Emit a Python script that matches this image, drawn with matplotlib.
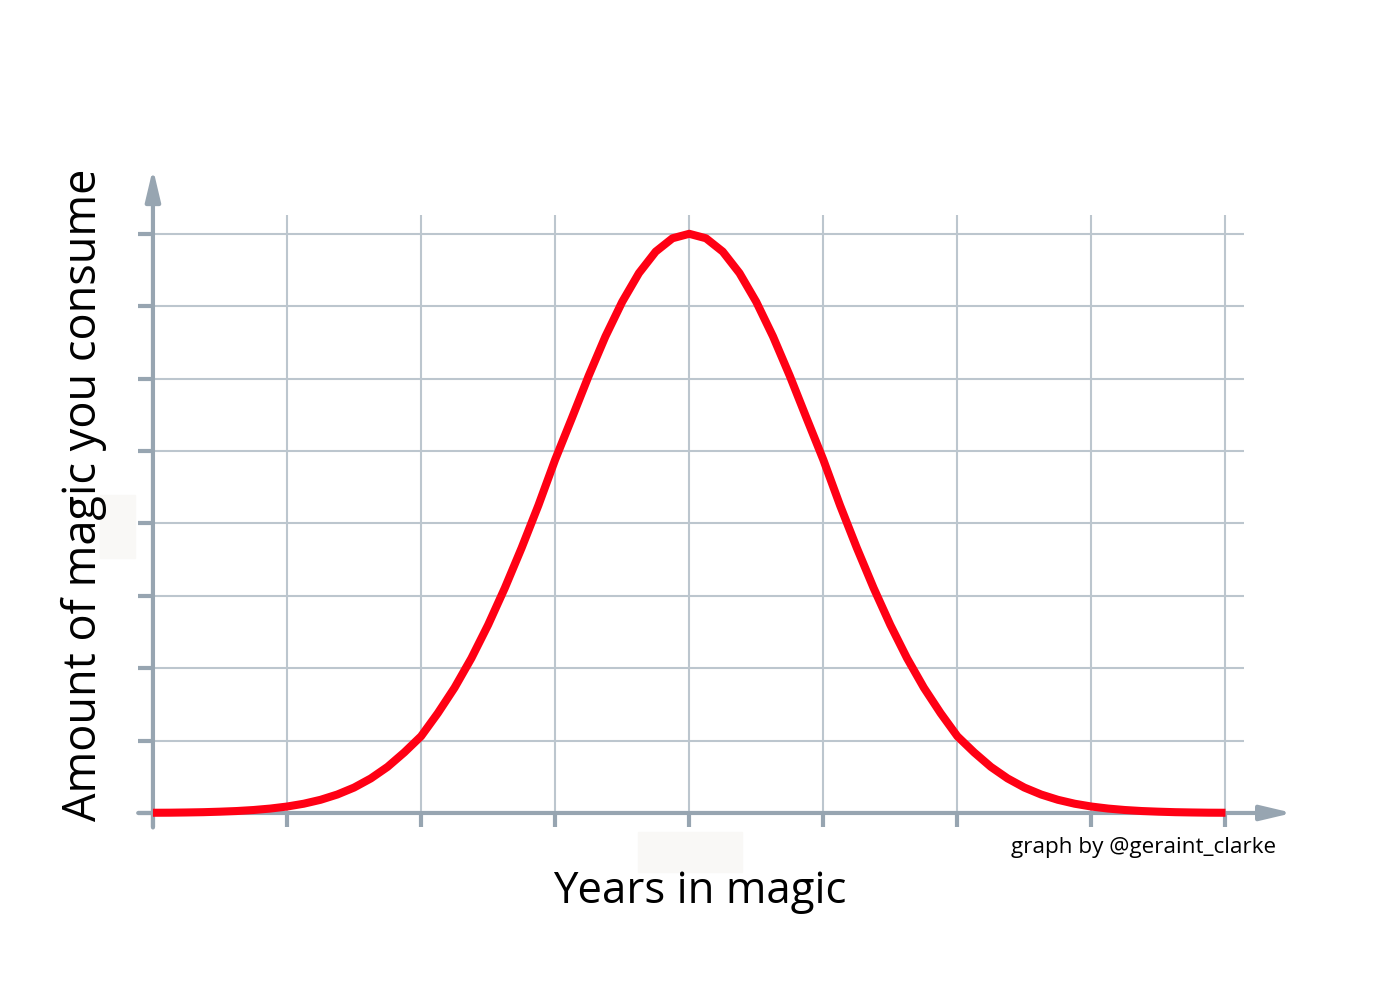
import matplotlib.pyplot as plt
from matplotlib.patches import Rectangle

# curve (years vs amount), rising half then falling half
years = [0, 0.125, 0.25, 0.375, 0.5, 0.625, 0.75, 0.875, 1, 1.125, 1.25, 1.375,
         1.5, 1.625, 1.75, 1.875, 2, 2.125, 2.25, 2.375, 2.5, 2.625, 2.75, 2.875,
         3, 3.125, 3.25, 3.375, 3.5, 3.625, 3.75, 3.875, 4,
         4.125, 4.25, 4.375, 4.5, 4.625, 4.75, 4.875, 5, 5.125, 5.25, 5.375,
         5.5, 5.625, 5.75, 5.875, 6, 6.125, 6.25, 6.375, 6.5, 6.625, 6.75, 6.875,
         7, 7.125, 7.25, 7.375, 7.5, 7.625, 7.75, 7.875, 8]
amount = [0.003, 0.004, 0.007, 0.011, 0.018, 0.027, 0.041, 0.061, 0.089, 0.128, 0.182, 0.255,
          0.351, 0.477, 0.637, 0.837, 1.06, 1.379, 1.731, 2.137, 2.598, 3.109, 3.662, 4.249,
          4.88, 5.455, 6.038, 6.582, 7.06, 7.457, 7.754, 7.938, 8.0,
          7.938, 7.754, 7.457, 7.06, 6.582, 6.038, 5.455, 4.88, 4.249, 3.662, 3.109,
          2.598, 2.137, 1.731, 1.379, 1.06, 0.837, 0.637, 0.477, 0.351, 0.255, 0.182, 0.128,
          0.089, 0.061, 0.041, 0.027, 0.018, 0.011, 0.007, 0.004, 0.003]
x_ticks = [0, 1, 2, 3, 4, 5, 6, 7, 8]
y_ticks = [0, 1, 2, 3, 4, 5, 6, 7, 8]

axis_col = '#97a5b1'
grid_col = '#bcc6ce'
red = '#ff0014'

fig = plt.figure(figsize=(14, 10), dpi=100)
ax = fig.add_axes([0.0901, 0.1653, 0.8427, 0.6733])
ax.set_xlim(-0.2, 8.6)
ax.set_ylim(-0.3, 9.0)
ax.axis('off')

# grid
ax.vlines(x_ticks[1:], 0, 8.26, color=grid_col, lw=1.5, zorder=1)
ax.hlines(y_ticks[1:], 0, 8.14, color=grid_col, lw=1.5, zorder=1)

# ticks
ax.hlines(y_ticks, -0.11, 0, color=axis_col, lw=3, zorder=2)
ax.vlines(x_ticks, -0.2, 0, color=axis_col, lw=3, zorder=2)

# axes with arrows
arrow = dict(arrowstyle='-|>,head_length=1.9,head_width=0.45',
             color=axis_col, lw=3, mutation_scale=10, shrinkA=0, shrinkB=0)
ax.annotate('', xy=(8.5, 0), xytext=(-0.11, 0), arrowprops=arrow, zorder=2)
ax.annotate('', xy=(0, 8.9), xytext=(0, -0.2), arrowprops=arrow, zorder=2)

ax.plot(years, amount, color=red, lw=5.8, solid_capstyle='butt',
        solid_joinstyle='round', zorder=3)

# faint patches
fig.patches.append(Rectangle((638 / 1400, 1 - 872 / 1000), 104 / 1400, 40 / 1000,
                             transform=fig.transFigure, color='#f9f8f6', zorder=0))
fig.patches.append(Rectangle((100 / 1400, 1 - 558 / 1000), 35 / 1400, 63 / 1000,
                             transform=fig.transFigure, color='#f9f8f6', zorder=0))

fig.text(84 / 1400, 1 - 495 / 1000, 'Amount of magic you consume', rotation=90,
         ha='center', va='center', fontsize=32.5, family='Open Sans')
fig.text(700 / 1400, 1 - 892 / 1000, 'Years in magic', ha='center', va='center',
         fontsize=31.5, family='Open Sans')
fig.text(1276 / 1400, 1 - 847 / 1000, 'graph by @geraint_clarke', ha='right', va='center',
         fontsize=16.2, family='Open Sans')

fig.savefig('out.png', dpi=100)
